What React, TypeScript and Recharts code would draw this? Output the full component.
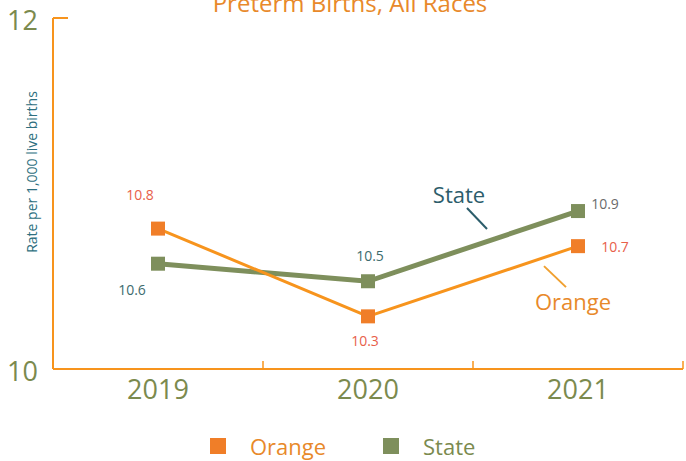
import { LineChart, Line, XAxis, YAxis, LabelList } from "recharts";

const years = ["2019", "2020", "2021"];
const orangeRates = [10.8, 10.3, 10.7];
const stateRates = [10.6, 10.5, 10.9];
const xTicks = [-0.5, 0, 0.5, 1, 1.5, 2, 2.5];
const yTicks = [10, 12];

const FONT = "'Open Sans', sans-serif";
const AXIS = "#f7941d";
const ORANGE = "#f7941d";
const ORANGE_DOT = "#f07e28";
const STATE = "#7e8f5c";
const OLIVE_TEXT = "#7b8a4e";

const data = years.map((year, i) => ({ x: i, year, orange: orangeRates[i], state: stateRates[i] }));

// label offsets relative to each point
const orangeLabel = [
  { dx: -18, dy: -34, color: "#e8604a" },
  { dx: -3, dy: 25, color: "#e8604a" },
  { dx: 37, dy: 1, color: "#e8604a" },
];
const stateLabel = [
  { dx: -26, dy: 26, color: "#3d6b6e" },
  { dx: 2, dy: -25, color: "#3d6b6e" },
  { dx: 27, dy: -7, color: "#6b6b6b" },
];

const SquareDot = ({ cx, cy, fill }: any) => {
  if (cx == null || cy == null) return null;
  return <rect x={cx - 7} y={cy - 7} width={14} height={14} fill={fill} />;
};

const XTick = ({ x, y, payload }: any) => {
  const v = payload.value;
  if (!Number.isInteger(v)) {
    return <line x1={x} y1={y} x2={x} y2={y - 8} stroke={AXIS} strokeWidth={1.5} />;
  }
  return (
    <text x={x} y={y + 8} dy="0.8em" textAnchor="middle" fill={OLIVE_TEXT} fontSize={27} fontFamily={FONT}>
      {years[v]}
    </text>
  );
};

const YTick = ({ x, y, payload }: any) => (
  <g>
    {payload.value === 12 && <line x1={x} y1={y} x2={x + 15} y2={y} stroke={AXIS} strokeWidth={2} />}
    <text x={x - 15} y={y + 2} dy="0.355em" textAnchor="end" fill={OLIVE_TEXT} fontSize={27} fontFamily={FONT}>
      {payload.value}
    </text>
  </g>
);

const makeLabel = (offsets: any[], note?: any) => (props: any) => {
  const { x, y, value, index } = props;
  const o = offsets[index];
  return (
    <g>
      <text x={x + o.dx} y={y + o.dy} dy="0.355em" textAnchor="middle" fill={o.color} fontSize={14} fontFamily={FONT}>
        {value}
      </text>
      {note && index === 2 && (
        <g>
          <line x1={x + note.l[0]} y1={y + note.l[1]} x2={x + note.l[2]} y2={y + note.l[3]} stroke={note.line} strokeWidth={2} />
          <text x={x + note.tx} y={y + note.ty} dy="0.355em" textAnchor="middle" fill={note.color} fontSize={22} fontFamily={FONT}>
            {note.text}
          </text>
        </g>
      )}
    </g>
  );
};

const stateNote = { text: "State", color: "#2c5d6b", line: "#2c5d6b", tx: -119, ty: -16, l: [-111, -3, -91, 18] };
const orangeNote = { text: "Orange", color: "#e8892a", line: "#f0a030", tx: -5, ty: 56, l: [-34, 20, -12, 41] };

const legendItems = [
  { name: "Orange", color: ORANGE_DOT, text: "#e8892a", left: 210 },
  { name: "State", color: STATE, text: OLIVE_TEXT, left: 383 },
];

export default function App() {
  return (
    <div style={{ position: "absolute", left: 0, top: 0, width: 686, height: 461, background: "#fff", overflow: "hidden", fontFamily: FONT }}>
      <div style={{ position: "absolute", left: 0, width: 700, top: -14, textAlign: "center", color: "#e8892a", fontSize: 24 }}>
        Preterm Births, All Races
      </div>
      <LineChart width={686} height={461} data={data} margin={{ top: 18, right: 3, left: 0, bottom: 62 }}>
        <XAxis
          dataKey="x"
          type="number"
          domain={[-0.5, 2.5]}
          ticks={xTicks}
          interval={0}
          height={30}
          tickSize={0}
          tickMargin={0}
          tickLine={false}
          axisLine={{ stroke: AXIS, strokeWidth: 2 }}
          tick={<XTick />}
        />
        <YAxis
          type="number"
          domain={[10, 12]}
          ticks={yTicks}
          width={53}
          tickSize={0}
          tickMargin={0}
          tickLine={false}
          axisLine={{ stroke: AXIS, strokeWidth: 2 }}
          tick={<YTick />}
          label={{
            content: ({ viewBox }: any) => (
              <text
                x={viewBox.x + 33}
                y={172}
                transform={`rotate(-90 ${viewBox.x + 33} 172)`}
                textAnchor="middle"
                dominantBaseline="middle"
                fill="#2e6f80"
                fontSize={14}
                fontFamily={FONT}
              >
                Rate per 1,000 live births
              </text>
            ),
          }}
        />
        <Line
          dataKey="state"
          stroke={STATE}
          strokeWidth={5}
          dot={<SquareDot fill={STATE} />}
          activeDot={false}
          isAnimationActive={false}
        >
          <LabelList dataKey="state" content={makeLabel(stateLabel, stateNote)} />
        </Line>
        <Line
          dataKey="orange"
          stroke={ORANGE}
          strokeWidth={3}
          dot={<SquareDot fill={ORANGE_DOT} />}
          activeDot={false}
          isAnimationActive={false}
        >
          <LabelList dataKey="orange" content={makeLabel(orangeLabel, orangeNote)} />
        </Line>
      </LineChart>
      {legendItems.map((item) => (
        <div key={item.name} style={{ position: "absolute", top: 432, left: item.left, height: 28, display: "flex", alignItems: "center" }}>
          <div style={{ width: 16, height: 16, background: item.color }} />
          <span style={{ marginLeft: 24, fontSize: 22, color: item.text, lineHeight: "28px" }}>{item.name}</span>
        </div>
      ))}
    </div>
  );
}
